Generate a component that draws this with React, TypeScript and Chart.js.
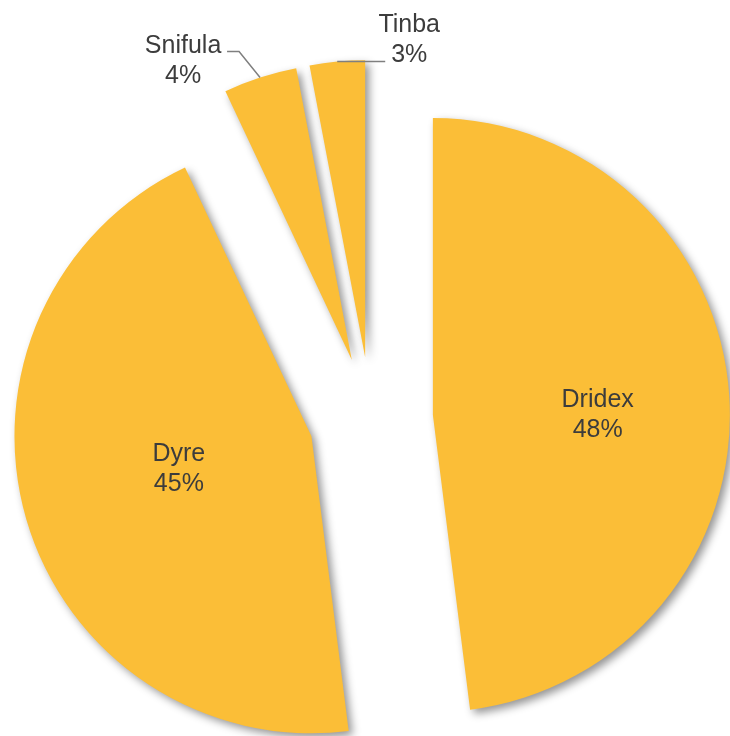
import { useEffect, useRef } from 'react';
import { Chart, registerables } from 'chart.js';

Chart.register(...registerables);

// ---- data ----
const categories = ['Dridex', 'Dyre', 'Snifula', 'Tinba'];
const shares = [48, 45, 4, 3];
const percentLabels = ['48%', '45%', '4%', '3%'];

// ---- style / layout ----
const SLICE_COLOR = '#FBBE37';
const EXPLODE = 62;
const RADIUS = 297;
const TEXT_COLOR = '#3C3C3C';
const LINE_COLOR = '#7F7F7F';
const FONT = '25px "Liberation Sans", Arial, sans-serif';
const LINE_GAP = 30;

// inside labels: fraction of radius along bisector + pixel nudge
const insideLabels: Record<number, { frac: number; dy: number }> = {
  0: { frac: 0.556, dy: 8 },
  1: { frac: 0.465, dy: -8 },
};
// outside labels: relative to the outer midpoint of the slice
const outsideLabels: Record<number, { path: number[][]; text: number[] }> = {
  2: { path: [[-21, -26], [-33, -26]], text: [-77, -19] },
  3: { path: [[48, 0]], text: [72, -24] },
};

const explodePlugin = {
  id: 'explode',
  afterDatasetUpdate(chart: any, args: any) {
    const meta = chart.getDatasetMeta(args.index);
    meta.data.forEach((arc: any) => {
      const mid = (arc.startAngle + arc.endAngle) / 2;
      arc.x += Math.cos(mid) * EXPLODE;
      arc.y += Math.sin(mid) * EXPLODE;
    });
  },
};

const shadowPlugin = {
  id: 'sliceShadow',
  beforeDatasetDraw(chart: any) {
    const c = chart.ctx;
    c.save();
    c.shadowColor = 'rgba(0,0,0,0.42)';
    c.shadowBlur = 8;
    c.shadowOffsetX = 4;
    c.shadowOffsetY = 4;
  },
  afterDatasetDraw(chart: any) {
    chart.ctx.restore();
  },
};

const labelPlugin = {
  id: 'sliceLabels',
  afterDatasetsDraw(chart: any) {
    const c = chart.ctx;
    const meta = chart.getDatasetMeta(0);
    c.save();
    c.font = FONT;
    c.fillStyle = TEXT_COLOR;
    c.textAlign = 'center';
    c.textBaseline = 'alphabetic';
    meta.data.forEach((arc: any, i: number) => {
      const mid = (arc.startAngle + arc.endAngle) / 2;
      const r = arc.outerRadius;
      const lines = [categories[i], percentLabels[i]];
      let ax: number, ay: number;
      if (insideLabels[i]) {
        const cfg = insideLabels[i];
        ax = arc.x + Math.cos(mid) * r * cfg.frac;
        ay = arc.y + Math.sin(mid) * r * cfg.frac + cfg.dy;
      } else {
        const cfg = outsideLabels[i];
        const ox = arc.x + Math.cos(mid) * r;
        const oy = arc.y + Math.sin(mid) * r;
        c.beginPath();
        c.strokeStyle = LINE_COLOR;
        c.lineWidth = 1.5;
        c.moveTo(ox, oy);
        cfg.path.forEach((p) => c.lineTo(ox + p[0], oy + p[1]));
        c.stroke();
        ax = ox + cfg.text[0];
        ay = oy + cfg.text[1];
      }
      c.fillText(lines[0], ax, ay - 6);
      c.fillText(lines[1], ax, ay - 6 + LINE_GAP);
    });
    c.restore();
  },
};

export default function App() {
  const ref = useRef<HTMLCanvasElement | null>(null);
  useEffect(() => {
    if (!ref.current) return;
    const chart = new Chart(ref.current, {
      type: 'pie',
      data: {
        labels: categories,
        datasets: [
          {
            data: shares,
            backgroundColor: SLICE_COLOR,
            borderWidth: 0,
            clip: false as any,
          },
        ],
      },
      options: {
        responsive: false,
        devicePixelRatio: 1,
        animation: false,
        radius: RADIUS,
        layout: { padding: { left: 12, right: 0, top: 102, bottom: 0 } },
        plugins: { legend: { display: false }, tooltip: { enabled: false } },
        events: [],
      } as any,
      plugins: [explodePlugin, shadowPlugin, labelPlugin],
    });
    return () => chart.destroy();
  }, []);
  return (
    <div style={{ position: 'absolute', left: 0, top: 0, width: 730, height: 736, background: '#fff' }}>
      <canvas ref={ref} width={730} height={736} />
    </div>
  );
}
